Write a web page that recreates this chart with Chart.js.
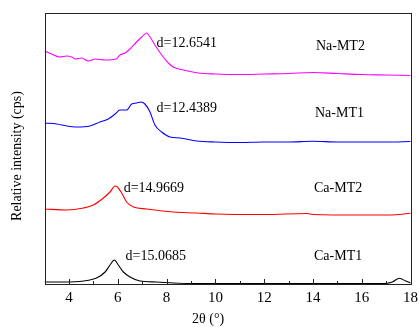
<!DOCTYPE html>
<html>
<head>
<meta charset="utf-8">
<script src="https://cdn.jsdelivr.net/npm/chart.js@4/dist/chart.umd.min.js"></script>
<style>
  html, body { margin: 0; padding: 0; background: #fff; overflow: hidden; }
  #wrap { width: 419px; height: 327px; }
</style>
</head>
<body>
<div id="wrap"><canvas id="xrd"></canvas></div>
<script>
// 2theta positions and relative intensity (offset stacked)
const naMT2X = [3.0, 3.29, 3.63, 3.9, 4.11, 4.25, 4.52, 4.79, 5.07, 5.48, 5.93, 6.09, 6.3, 6.5, 6.77, 6.98, 7.18, 7.32, 7.52, 7.8, 8.07, 8.27, 8.68, 9.3, 10, 11, 12, 13, 14, 15, 16, 17, 18];
const naMT2Y = [233, 230, 227, 228, 227, 225, 226, 223, 225, 224, 225, 229, 231, 235, 242, 247, 251, 247, 239, 229, 221, 217, 214, 211, 210, 209.5, 210, 210.5, 211.5, 210.5, 209.5, 209, 208.5];

const naMT1X = [3.0, 3.5, 3.91, 4.32, 4.86, 5.27, 5.61, 5.89, 6.09, 6.36, 6.57, 6.77, 6.95, 7.11, 7.32, 7.52, 7.8, 8.14, 8.55, 9.23, 10, 11, 12, 13, 14, 15, 16, 17, 18];
const naMT1Y = [161, 160, 158, 157, 158, 162, 165, 170, 174, 174, 180, 181, 182, 180, 172, 159, 152, 147, 146, 143, 142, 141.5, 142, 142, 142.7, 142, 142, 142, 142.5];

const caMT2X = [3.0, 3.9, 4.59, 5.0, 5.41, 5.68, 5.89, 5.98, 6.16, 6.36, 6.64, 7.18, 8.27, 9.23, 10, 12, 13.75, 14, 16, 17.15, 18];
const caMT2Y = [75, 74, 76, 79, 86, 92, 98, 97, 91, 82, 77, 75, 72, 71, 70, 69.5, 70.5, 69.5, 69, 69, 70.7];

const caMT1X = [3.0, 3.77, 4.59, 5.13, 5.48, 5.68, 5.86, 6.02, 6.23, 6.5, 6.91, 7.59, 8.27, 9, 10, 12, 14, 16, 16.95, 17.25, 17.54, 17.8, 18];
const caMT1Y = [2, 2, 3, 6, 12, 19, 24, 19, 12, 7, 3, 2, 1, 0.5, 0.5, 0.5, 0.5, 0.5, 0.5, 2, 5.7, 3, 1];

const seriesNames = ["Na-MT2", "Na-MT1", "Ca-MT2", "Ca-MT1"];
const dSpacings = ["d=12.6541", "d=12.4389", "d=14.9669", "d=15.0685"];
const lineColors = ["#ff00ff", "#0000ff", "#ff0000", "#000000"];

// where the text sits, in data units (2theta, intensity)
const dLabelPos = [[7.59, 241], [7.59, 176], [6.24, 96], [6.32, 27.3]];
const nameLabelPos = [[14.12, 238], [14.08, 171], [14.04, 96], [14.04, 27.3]];

const xTicks = [4, 6, 8, 10, 12, 14, 16, 18];

function toPoints(xs, ys) {
    let pts = [];
    for (let i = 0; i < xs.length; i++) {
        pts.push({ x: xs[i], y: ys[i] });
    }
    return pts;
}

const allX = [naMT2X, naMT1X, caMT2X, caMT1X];
const allY = [naMT2Y, naMT1Y, caMT2Y, caMT1Y];

const datasets = [];
for (let i = 0; i < seriesNames.length; i++) {
    datasets.push({
        label: seriesNames[i],
        data: toPoints(allX[i], allY[i]),
        borderColor: lineColors[i],
        borderWidth: 1.1,
        pointRadius: 0,
        cubicInterpolationMode: "monotone",
        fill: false,
    });
}

const serif = "'Liberation Serif', 'Times New Roman', serif";

// frame, inward ticks and all the text labels
const framePlugin = {
    id: "frame",
    afterDatasetsDraw(chart) {
        const ctx = chart.ctx;
        const area = chart.chartArea;
        const xs = chart.scales.x;
        const ys = chart.scales.y;
        const l = Math.round(area.left);
        const t = Math.round(area.top);
        const r = Math.round(area.right);
        const b = Math.round(area.bottom);
        ctx.save();
        ctx.fillStyle = "#222";
        ctx.fillRect(l, t, r - l + 1, 1);
        ctx.fillRect(l, b, r - l + 1, 1);
        ctx.fillRect(l, t, 1, b - t + 1);
        ctx.fillRect(r, t, 1, b - t + 1);

        for (let v = 4; v <= 17; v++) {
            let px = Math.round(xs.getPixelForValue(v));
            let len = v % 2 === 0 ? 5 : 3;
            ctx.fillRect(px, b - len, 1, len);
        }

        ctx.fillStyle = "#000";
        ctx.font = "14px " + serif;
        ctx.textBaseline = "middle";
        ctx.textAlign = "left";
        for (let i = 0; i < dSpacings.length; i++) {
            ctx.fillText(dSpacings[i], xs.getPixelForValue(dLabelPos[i][0]), ys.getPixelForValue(dLabelPos[i][1]));
            ctx.fillText(seriesNames[i], xs.getPixelForValue(nameLabelPos[i][0]), ys.getPixelForValue(nameLabelPos[i][1]));
        }

        // axis titles
        ctx.textAlign = "center";
        ctx.fillText("2θ (°)", xs.getPixelForValue(9.7), 319);
        ctx.translate(17.5, 156);
        ctx.rotate(-Math.PI / 2);
        ctx.fillText("Relative intensity (cps)", 0, 0);
        ctx.restore();
    },
};

const canvas = document.getElementById("xrd");
new Chart(canvas, {
    type: "line",
    data: { datasets: datasets },
    options: {
        responsive: true,
        maintainAspectRatio: false,
        animation: false,
        events: [],
        layout: { padding: { left: 44.6, right: 8.4, top: 13, bottom: 20 } },
        plugins: { legend: { display: false }, tooltip: { enabled: false } },
        scales: {
            x: {
                type: "linear",
                min: 3,
                max: 18,
                grid: { display: false, drawTicks: false },
                border: { display: false },
                afterBuildTicks(scale) {
                    scale.ticks = xTicks.map((v) => ({ value: v }));
                },
                afterFit(scale) {
                    scale.height = 23;
                    scale.paddingLeft = 0;
                    scale.paddingRight = 0;
                },
                ticks: {
                    padding: 5,
                    color: "#000",
                    font: { family: serif, size: 15 },
                },
            },
            y: {
                display: false,
                min: 0,
                max: 271,
            },
        },
    },
    plugins: [framePlugin],
});
</script>
</body>
</html>
